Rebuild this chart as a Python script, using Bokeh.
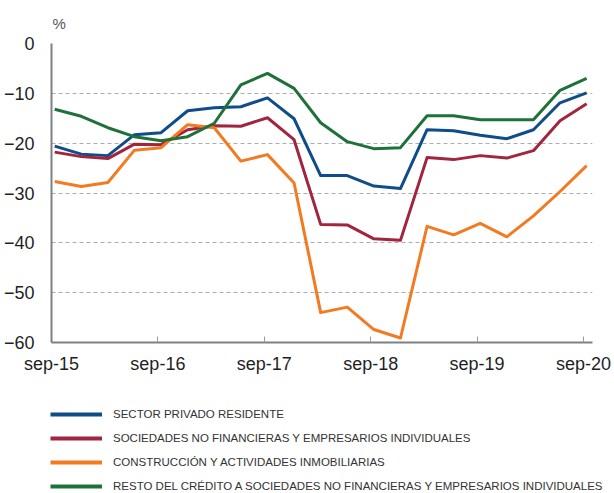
from bokeh.plotting import figure
from bokeh.layouts import column, row
from bokeh.models import FixedTicker, Legend, LegendItem, Range1d
from bokeh.embed import file_html
from bokeh.resources import INLINE

# quarterly data sep-15 .. sep-20 (21 points)
quarters = list(range(21))
sector_privado = [-20.6, -22.2, -22.5, -18.3, -17.9, -13.5, -12.9, -12.7, -10.9, -15.1,
                  -26.5, -26.5, -28.6, -29.1, -17.3, -17.5, -18.4, -19.1, -17.3, -11.9, -9.9]
sociedades_nf = [-21.8, -22.7, -23.1, -20.2, -20.3, -17.3, -16.5, -16.6, -14.9, -19.3,
                 -36.3, -36.4, -39.2, -39.5, -22.9, -23.3, -22.5, -23.0, -21.5, -15.5, -12.1]
construccion = [-27.7, -28.7, -27.9, -21.4, -20.9, -16.3, -16.9, -23.6, -22.3, -28.0,
                -54.0, -52.9, -57.4, -59.1, -36.7, -38.4, -36.1, -38.8, -34.6, -29.7, -24.5]
resto_credito = [-13.2, -14.6, -16.9, -18.7, -19.5, -18.7, -16.0, -8.3, -6.0, -9.0,
                 -15.9, -19.7, -21.1, -20.9, -14.5, -14.5, -15.3, -15.3, -15.3, -9.4, -7.0]

tick_labels = ["sep-15", "sep-16", "sep-17", "sep-18", "sep-19", "sep-20"]
tick_quarters = [0, 4, 8, 12, 16, 20]
y_ticks = [0, -10, -20, -30, -40, -50, -60]

series = [
    ("SECTOR PRIVADO RESIDENTE", sector_privado, "#0f4c8a"),
    ("SOCIEDADES NO FINANCIERAS Y EMPRESARIOS INDIVIDUALES", sociedades_nf, "#a2253f"),
    ("CONSTRUCCIÓN Y ACTIVIDADES INMOBILIARIAS", construccion, "#f47a22"),
    ("RESTO DEL CRÉDITO A SOCIEDADES NO FINANCIERAS Y EMPRESARIOS INDIVIDUALES", resto_credito, "#1e7139"),
]

offset = -0.12  # ticks sit slightly before the data point of each September

p = figure(width=614, height=380, output_backend="svg", toolbar_location=None,
           x_range=Range1d(offset, 20.22), y_range=Range1d(-60, 0),
           min_border_left=49, min_border_right=22, min_border_top=43, min_border_bottom=38,
           title="%")
p.title.text_font = "Liberation Sans"
p.title.text_font_size = "15px"
p.title.text_font_style = "normal"
p.title.text_color = "#555555"
p.title.align = "left"
p.title.offset = 1
p.title.standoff = 23

p.outline_line_color = None
p.background_fill_color = "white"
p.border_fill_color = "white"

p.xgrid.grid_line_color = None
p.ygrid.grid_line_color = "#adadad"
p.ygrid.grid_line_dash = "4 3"
p.ygrid.grid_line_width = 1
p.ygrid.ticker = FixedTicker(ticks=y_ticks)

p.yaxis.ticker = FixedTicker(ticks=y_ticks)
p.yaxis.axis_line_color = "#7d8185"
p.yaxis.axis_line_width = 2
p.yaxis.major_tick_line_color = None
p.yaxis.minor_tick_line_color = None
p.yaxis.major_tick_out = 0
p.yaxis.major_tick_in = 0
p.yaxis.major_label_standoff = 17
p.yaxis.major_label_text_font = "Liberation Sans"
p.yaxis.major_label_text_font_size = "18px"
p.yaxis.major_label_text_color = "#1f1f1f"

xt = [q + offset for q in tick_quarters]
p.xaxis.ticker = FixedTicker(ticks=xt)
p.xaxis.major_label_overrides = {t: lab for t, lab in zip(xt, tick_labels)}
p.xaxis.axis_line_color = "#7d8185"
p.xaxis.axis_line_width = 2
p.xaxis.major_tick_line_color = "#9a9a9a"
p.xaxis.major_tick_in = 6
p.xaxis.major_tick_out = 0
p.xaxis.minor_tick_line_color = None
p.xaxis.major_label_standoff = 11
p.xaxis.major_label_text_font = "Liberation Sans"
p.xaxis.major_label_text_font_size = "18px"
p.xaxis.major_label_text_color = "#1f1f1f"

for name, vals, color in series:
    p.line(quarters, vals, line_color=color, line_width=3, line_join="round")

# legend panel below the chart (its lines lie outside its ranges; only the legend shows)
lf = figure(width=614, height=113, output_backend="svg", toolbar_location=None,
            x_axis_location=None, y_axis_location=None,
            x_range=Range1d(100, 101), y_range=Range1d(100, 101),
            min_border_left=0, min_border_right=0, min_border_top=0, min_border_bottom=0)
lf.outline_line_color = None
lf.grid.grid_line_color = None
items = []
for name, vals, color in series:
    r = lf.line(quarters, vals, line_color=color, line_width=4)
    items.append(LegendItem(label=name, renderers=[r]))
legend = Legend(items=items, location=(50, -1), orientation="vertical",
                glyph_width=52, glyph_height=16, label_height=16, spacing=8,
                label_standoff=11, padding=0, margin=0,
                border_line_color=None, background_fill_alpha=0,
                label_text_font="Liberation Sans", label_text_font_size="11.5px",
                label_text_color="#333333", label_text_baseline="middle")
lf.add_layout(legend, "center")

open("out.html", "w").write(file_html(column(p, row(lf)), INLINE))
